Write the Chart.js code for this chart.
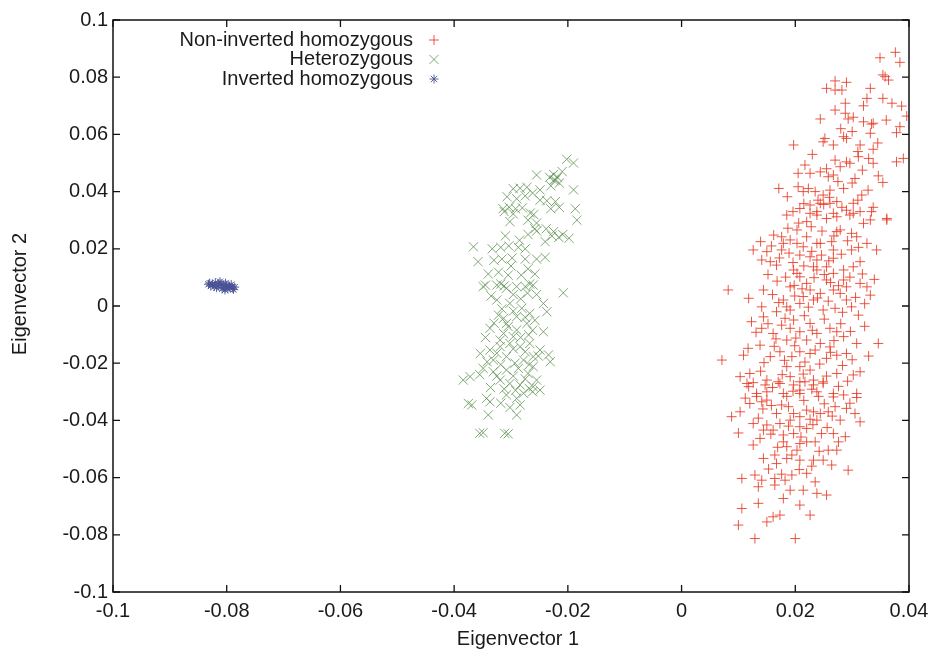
<!DOCTYPE html>
<html>
<head>
<meta charset="utf-8">
<script src="https://cdn.jsdelivr.net/npm/chart.js@4"></script>
<style>
  html, body { margin: 0; padding: 0; background: #fff; }
  #wrap { width: 936px; height: 649px; }
</style>
</head>
<body>
<div id="wrap"><canvas id="pca"></canvas></div>
<script>
// axis ranges / labels
const xTitle = "Eigenvector 1";
const yTitle = "Eigenvector 2";
const seriesNames = ["Non-inverted homozygous", "Heterozygous", "Inverted homozygous"];

// points, [eigenvector 1, eigenvector 2]
const nonInverted = [
  [0.0376,0.0887],[0.0349,0.0868],[0.0384,0.0852],[0.0354,0.0808],[0.0358,0.0802],[0.0364,0.0790],
  [0.0270,0.0787],[0.0290,0.0782],[0.0255,0.0761],[0.0270,0.0755],[0.0282,0.0755],[0.0332,0.0761],
  [0.0326,0.0726],[0.0354,0.0726],[0.0370,0.0709],[0.0387,0.0699],[0.0288,0.0709],[0.0270,0.0685],
  [0.0288,0.0674],[0.0244,0.0654],[0.0293,0.0654],[0.0302,0.0660],[0.0320,0.0644],[0.0334,0.0636],
  [0.0337,0.0639],[0.0396,0.0664],[0.0384,0.0627],[0.0378,0.0606],[0.0332,0.0604],[0.0197,0.0563],
  [0.0252,0.0586],[0.0249,0.0574],[0.0267,0.0563],[0.0285,0.0592],[0.0290,0.0586],[0.0314,0.0563],
  [0.0337,0.0548],[0.0390,0.0516],[0.0378,0.0504],[0.0270,0.0510],[0.0279,0.0487],[0.0290,0.0504],
  [0.0296,0.0499],[0.0311,0.0522],[0.0329,0.0516],[0.0337,0.0499],[0.0217,0.0493],[0.0205,0.0464],
  [0.0226,0.0464],[0.0244,0.0469],[0.0258,0.0452],[0.0267,0.0458],[0.0305,0.0446],[0.0354,0.0432],
  [0.0171,0.0411],[0.0205,0.0417],[0.0223,0.0411],[0.0235,0.0400],[0.0249,0.0388],[0.0261,0.0405],
  [0.0285,0.0411],[0.0186,0.0382],[0.0317,0.0388],[0.0214,0.0400],[0.0240,0.0370],[0.0273,0.0365],
  [0.0250,0.0355],[0.0185,0.0318],[0.0208,0.0341],[0.0226,0.0324],[0.0238,0.0330],[0.0267,0.0324],
  [0.0290,0.0335],[0.0302,0.0324],[0.0314,0.0330],[0.0334,0.0330],[0.0361,0.0306],
  [0.0226,0.0353],[0.0244,0.0359],[0.0261,0.0359],[0.0302,0.0359],[0.0337,0.0345],
  [0.0220,0.0295],[0.0238,0.0318],[0.0255,0.0306],[0.0273,0.0312],[0.0296,0.0318],[0.0320,0.0289],
  [0.0332,0.0301],[0.0361,0.0301],[0.0126,0.0196],[0.0150,0.0190],[0.0141,0.0161],[0.0156,0.0155],
  [0.0167,0.0143],[0.0176,0.0242],[0.0176,0.0196],[0.0191,0.0231],[0.0203,0.0219],[0.0214,0.0207],
  [0.0208,0.0178],[0.0226,0.0172],[0.0238,0.0161],[0.0244,0.0219],[0.0264,0.0225],[0.0267,0.0167],
  [0.0279,0.0266],[0.0299,0.0254],[0.0299,0.0196],[0.0308,0.0242],[0.0314,0.0155],[0.0326,0.0219],
  [0.0343,0.0196],[0.0273,0.0260],[0.0220,0.0242],[0.0232,0.0137],[0.0197,0.0126],[0.0203,0.0266],
  [0.0179,0.0219],[0.0267,0.0196],[0.0238,0.0219],[0.0255,0.0137],[0.0302,0.0137],[0.0285,0.0091],
  [0.0082,0.0056],[0.0144,0.0056],[0.0118,0.0027],[0.0141,-0.0003],[0.0179,0.0021],[0.0191,0.0067],
  [0.0208,0.0102],[0.0226,0.0056],[0.0238,0.0126],[0.0255,0.0091],[0.0267,0.0114],[0.0285,0.0126],
  [0.0290,0.0067],[0.0314,0.0079],[0.0326,0.0067],[0.0332,0.0038],[0.0299,-0.0003],[0.0311,-0.0032],
  [0.0270,-0.0008],[0.0249,-0.0014],[0.0232,0.0021],[0.0208,0.0009],[0.0191,-0.0014],[0.0167,-0.0020],
  [0.0220,0.0079],[0.0244,0.0044],[0.0279,0.0044],[0.0203,0.0114],[0.0214,0.0033],[0.0185,-0.0003],
  [0.0290,0.0021],[0.0267,0.0056],
  [0.0123,-0.0055],[0.0144,-0.0038],[0.0141,-0.0078],[0.0161,-0.0096],[0.0176,-0.0067],[0.0191,-0.0078],
  [0.0208,-0.0090],[0.0226,-0.0061],[0.0238,-0.0096],[0.0261,-0.0078],[0.0273,-0.0090],[0.0285,-0.0107],
  [0.0308,-0.0131],[0.0346,-0.0131],[0.0138,-0.0137],[0.0109,-0.0172],[0.0071,-0.0189],[0.0156,-0.0177],
  [0.0173,-0.0160],[0.0194,-0.0177],[0.0208,-0.0160],[0.0226,-0.0166],[0.0235,-0.0154],[0.0255,-0.0183],
  [0.0273,-0.0172],[0.0290,-0.0166],[0.0314,-0.0230],[0.0103,-0.0247],[0.0120,-0.0236],[0.0150,-0.0259],
  [0.0170,-0.0265],[0.0191,-0.0247],[0.0208,-0.0265],[0.0232,-0.0259],[0.0249,-0.0265],[0.0273,-0.0236],
  [0.0302,-0.0241],[0.0132,-0.0306],[0.0150,-0.0300],[0.0179,-0.0306],[0.0208,-0.0306],[0.0238,-0.0300],
  [0.0267,-0.0306],[0.0308,-0.0306],[0.0197,-0.0049],[0.0220,-0.0119],[0.0244,-0.0131],[0.0185,-0.0119],
  [0.0208,-0.0212],[0.0226,-0.0224],[0.0185,-0.0212],[0.0261,-0.0143],
  [0.0088,-0.0387],[0.0103,-0.0370],[0.0115,-0.0271],[0.0118,-0.0282],[0.0132,-0.0316],[0.0147,-0.0276],
  [0.0173,-0.0271],[0.0185,-0.0316],[0.0197,-0.0276],[0.0208,-0.0294],[0.0217,-0.0265],[0.0232,-0.0276],
  [0.0241,-0.0316],[0.0249,-0.0270],[0.0267,-0.0318],[0.0285,-0.0311],[0.0308,-0.0320],
  [0.0120,-0.0341],[0.0141,-0.0335],[0.0150,-0.0329],[0.0167,-0.0376],[0.0176,-0.0346],[0.0197,-0.0376],
  [0.0208,-0.0387],[0.0220,-0.0364],[0.0232,-0.0370],[0.0244,-0.0376],[0.0258,-0.0370],[0.0270,-0.0352],
  [0.0279,-0.0399],[0.0290,-0.0358],[0.0305,-0.0376],[0.0314,-0.0405],[0.0126,-0.0411],[0.0150,-0.0416],
  [0.0144,-0.0434],[0.0161,-0.0434],[0.0126,-0.0486],[0.0138,-0.0463],[0.0179,-0.0451],[0.0197,-0.0446],
  [0.0220,-0.0428],[0.0246,-0.0446],[0.0267,-0.0446],[0.0288,-0.0457],[0.0179,-0.0475],[0.0203,-0.0504],
  [0.0220,-0.0475],[0.0235,-0.0475],[0.0258,-0.0504],[0.0273,-0.0504],[0.0208,-0.0539],[0.0232,-0.0539],
  [0.0249,-0.0539],[0.0264,-0.0556],[0.0293,-0.0574],[0.0144,-0.0533],[0.0164,-0.0521],[0.0185,-0.0533],
  [0.0167,-0.0551],[0.0106,-0.0603],[0.0129,-0.0591],[0.0141,-0.0609],[0.0164,-0.0603],[0.0182,-0.0609],
  [0.0194,-0.0591],[0.0220,-0.0585],[0.0235,-0.0615],[0.0135,-0.0632],[0.0164,-0.0626],[0.0191,-0.0644],
  [0.0214,-0.0644],[0.0238,-0.0655],[0.0255,-0.0661],[0.0179,-0.0673],[0.0208,-0.0696],[0.0135,-0.0690],
  [0.0106,-0.0708],[0.0226,-0.0731],[0.0150,-0.0755],[0.0173,-0.0731],[0.0161,-0.0737],[0.0100,-0.0766],
  [0.0129,-0.0813],[0.0200,-0.0813],[0.0173,-0.0411],[0.0191,-0.0399],[0.0208,-0.0422],[0.0238,-0.0399],
  [0.0185,-0.0492],[0.0208,-0.0481],[0.0100,-0.0444],
  // denser core
  [0.0158,0.0210],[0.0172,0.0168],[0.0189,0.0185],[0.0196,0.0152],[0.0215,0.0140],[0.0229,0.0191],
  [0.0246,0.0178],[0.0259,0.0158],[0.0281,0.0181],[0.0292,0.0228],[0.0311,0.0205],[0.0268,0.0245],
  [0.0247,0.0262],[0.0228,0.0277],[0.0206,0.0290],[0.0187,0.0272],[0.0162,0.0248],[0.0139,0.0225],
  [0.0152,0.0110],[0.0168,0.0087],[0.0183,0.0101],[0.0198,0.0072],[0.0212,0.0060],[0.0233,0.0099],
  [0.0251,0.0110],[0.0262,0.0082],[0.0276,0.0071],[0.0296,0.0101],[0.0318,0.0112],[0.0339,0.0093],
  [0.0160,0.0040],[0.0171,0.0012],[0.0199,0.0035],[0.0223,-0.0004],[0.0239,0.0028],[0.0258,0.0017],
  [0.0283,-0.0022],[0.0306,0.0030],[0.0322,0.0008],
  [0.0131,-0.0092],[0.0152,-0.0062],[0.0166,-0.0115],[0.0182,-0.0043],[0.0201,-0.0112],[0.0216,-0.0034],
  [0.0230,-0.0085],[0.0251,-0.0046],[0.0268,-0.0121],[0.0280,-0.0062],[0.0297,-0.0089],[0.0322,-0.0071],
  [0.0117,-0.0148],[0.0145,-0.0198],[0.0163,-0.0141],[0.0181,-0.0190],[0.0199,-0.0139],[0.0217,-0.0196],
  [0.0243,-0.0203],[0.0262,-0.0162],[0.0283,-0.0208],[0.0300,-0.0188],[0.0329,-0.0175],
  [0.0126,-0.0268],[0.0139,-0.0228],[0.0160,-0.0285],[0.0177,-0.0240],[0.0196,-0.0298],[0.0214,-0.0238],
  [0.0229,-0.0291],[0.0255,-0.0245],[0.0276,-0.0281],[0.0292,-0.0263],[0.0112,-0.0322],[0.0143,-0.0360],
  [0.0158,-0.0348],[0.0188,-0.0352],[0.0215,-0.0330],[0.0226,-0.0396],[0.0251,-0.0342],[0.0265,-0.0385],
  [0.0296,-0.0340],[0.0135,-0.0392],[0.0157,-0.0448],[0.0188,-0.0420],[0.0210,-0.0458],[0.0231,-0.0415],
  [0.0256,-0.0425],[0.0276,-0.0475],[0.0169,-0.0494],[0.0194,-0.0521],[0.0242,-0.0508],[0.0153,-0.0570],
  [0.0176,-0.0588],[0.0207,-0.0572],[0.0229,-0.0560],
  [0.0196,0.0330],[0.0215,0.0358],[0.0260,0.0380],[0.0282,0.0345],[0.0310,0.0370],[0.0328,0.0405],
  [0.0300,0.0430],[0.0275,0.0435],[0.0255,0.0480],[0.0318,0.0475],[0.0346,0.0455],[0.0345,0.0570],
  [0.0300,0.0610],[0.0360,0.0650],[0.0320,0.0700],[0.0280,0.0620],[0.0310,0.0540],[0.0230,0.0530]
];

const heterozygous = [
  [-0.0202,0.0513],[-0.0190,0.0500],[-0.0255,0.0458],[-0.0225,0.0460],[-0.0222,0.0440],[-0.0215,0.0430],
  [-0.0230,0.0420],[-0.0210,0.0470],[-0.0190,0.0406],[-0.0249,0.0406],[-0.0296,0.0410],[-0.0284,0.0412],
  [-0.0272,0.0415],[-0.0307,0.0382],[-0.0249,0.0370],[-0.0237,0.0368],[-0.0222,0.0365],[-0.0314,0.0340],
  [-0.0303,0.0345],[-0.0292,0.0340],[-0.0280,0.0343],[-0.0266,0.0325],[-0.0260,0.0320],[-0.0230,0.0340],
  [-0.0215,0.0345],[-0.0187,0.0340],[-0.0302,0.0295],[-0.0184,0.0300],[-0.0258,0.0270],[-0.0255,0.0262],
  [-0.0270,0.0250],[-0.0228,0.0245],[-0.0216,0.0240],[-0.0209,0.0250],[-0.0198,0.0237],[-0.0366,0.0207],
  [-0.0358,0.0155],[-0.0333,0.0200],[-0.0318,0.0205],[-0.0304,0.0210],[-0.0287,0.0205],[-0.0275,0.0200],
  [-0.0316,0.0164],[-0.0298,0.0168],[-0.0275,0.0164],[-0.0255,0.0164],[-0.0240,0.0170],[-0.0340,0.0112],
  [-0.0322,0.0118],[-0.0305,0.0108],[-0.0282,0.0108],[-0.0258,0.0112],[-0.0345,0.0073],[-0.0318,0.0077],
  [-0.0290,0.0068],[-0.0267,0.0077],[-0.0349,0.0068],[-0.0325,0.0073],[-0.0308,0.0062],[-0.0275,0.0068],
  [-0.0261,0.0073],[-0.0325,0.0021],[-0.0302,0.0009],[-0.0281,-0.0008],[-0.0267,-0.0026],[-0.0243,0.0009],
  [-0.0237,-0.0020],[-0.0322,-0.0032],[-0.0313,-0.0043],[-0.0243,-0.0090],[-0.0337,-0.0078],[-0.0313,-0.0096],
  [-0.0290,-0.0084],[-0.0269,-0.0101],[-0.0354,-0.0166],[-0.0337,-0.0154],[-0.0319,-0.0142],[-0.0302,-0.0131],
  [-0.0284,-0.0142],[-0.0267,-0.0131],[-0.0249,-0.0154],[-0.0234,-0.0171],[-0.0231,-0.0195],[-0.0372,-0.0247],
  [-0.0384,-0.0259],[-0.0349,-0.0218],[-0.0331,-0.0230],[-0.0308,-0.0224],[-0.0287,-0.0218],[-0.0270,-0.0236],
  [-0.0261,-0.0212],[-0.0319,-0.0259],[-0.0302,-0.0271],[-0.0284,-0.0276],[-0.0261,-0.0282],[-0.0249,-0.0294],
  [-0.0375,-0.0341],[-0.0369,-0.0346],[-0.0343,-0.0323],[-0.0337,-0.0335],[-0.0308,-0.0311],[-0.0290,-0.0323],
  [-0.0284,-0.0346],[-0.0340,-0.0381],[-0.0290,-0.0381],[-0.0355,-0.0445],[-0.0349,-0.0443],[-0.0311,-0.0445],
  [-0.0305,-0.0447],[-0.0208,0.0046],[-0.0308,-0.0177],[-0.0278,-0.0189],[-0.0296,-0.0107],[-0.0272,-0.0061],
  [-0.0308,-0.0061],[-0.0290,-0.0037],[-0.0319,-0.0119],[-0.0261,-0.0177],[-0.0331,-0.0189],[-0.0255,-0.0259],
  [-0.0278,-0.0305],
  // denser core
  [-0.0312,0.0070],[-0.0296,0.0040],[-0.0283,0.0025],[-0.0271,0.0045],[-0.0255,0.0040],[-0.0335,0.0035],
  [-0.0316,-0.0010],[-0.0296,-0.0018],[-0.0275,-0.0040],[-0.0258,-0.0050],[-0.0330,-0.0060],[-0.0305,-0.0072],
  [-0.0283,-0.0110],[-0.0262,-0.0085],[-0.0345,-0.0110],[-0.0325,-0.0165],[-0.0296,-0.0150],[-0.0275,-0.0160],
  [-0.0252,-0.0175],[-0.0342,-0.0195],[-0.0318,-0.0205],[-0.0293,-0.0200],[-0.0268,-0.0205],[-0.0355,-0.0240],
  [-0.0325,-0.0245],[-0.0296,-0.0245],[-0.0275,-0.0255],[-0.0336,-0.0285],[-0.0312,-0.0290],[-0.0292,-0.0295],
  [-0.0268,-0.0288],[-0.0318,-0.0340],[-0.0302,-0.0355],[-0.0262,-0.0300],
  [-0.0290,0.0375],[-0.0275,0.0385],[-0.0262,0.0395],[-0.0312,0.0330],[-0.0296,0.0322],[-0.0270,0.0300],
  [-0.0255,0.0290],[-0.0238,0.0270],[-0.0225,0.0260],[-0.0240,0.0225],[-0.0310,0.0245],[-0.0285,0.0230],
  [-0.0330,0.0160],[-0.0300,0.0140],[-0.0270,0.0130],[-0.0225,0.0440],[-0.0218,0.0450],[-0.0232,0.0450]
];

const invertedHom = [
  [-0.0830,0.0080],[-0.0825,0.0075],[-0.0820,0.0082],[-0.0815,0.0070],[-0.0810,0.0078],[-0.0805,0.0065],
  [-0.0800,0.0072],[-0.0795,0.0068],[-0.0790,0.0062],[-0.0786,0.0066],[-0.0828,0.0070],[-0.0818,0.0064],
  [-0.0808,0.0060],[-0.0798,0.0060],[-0.0812,0.0085],[-0.0802,0.0080],[-0.0792,0.0075],[-0.0822,0.0068],
  [-0.0806,0.0072],[-0.0796,0.0070],[-0.0832,0.0076],[-0.0814,0.0076],[-0.0788,0.0058],[-0.0803,0.0056]
];

const colors = ["rgba(232,58,36,0.85)", "rgba(96,146,84,0.8)", "rgba(72,82,150,0.9)"];
const styles = ["cross", "crossRot", "star"];
const radii = [5, 6.5, 4.5];

const FONT = "'Liberation Sans', Arial, sans-serif";
const toXY = (arr) => arr.map((p) => ({ x: p[0], y: p[1] }));
const fmt = (v) => Number(v.toFixed(2)).toString();

const gnuplotFrame = {
  id: "gnuplotFrame",
  afterDraw(chart) {
    const { ctx, chartArea: a, scales } = chart;
    ctx.save();
    ctx.strokeStyle = "#111";
    ctx.lineWidth = 1.5;
    ctx.strokeRect(a.left, a.top, a.right - a.left, a.bottom - a.top);

    // inward ticks on all four sides
    ctx.lineWidth = 1.3;
    ctx.beginPath();
    scales.x.ticks.forEach((t) => {
      const px = scales.x.getPixelForValue(t.value);
      ctx.moveTo(px, a.bottom); ctx.lineTo(px, a.bottom - 7);
      ctx.moveTo(px, a.top); ctx.lineTo(px, a.top + 7);
    });
    scales.y.ticks.forEach((t) => {
      const py = scales.y.getPixelForValue(t.value);
      ctx.moveTo(a.left, py); ctx.lineTo(a.left + 7, py);
      ctx.moveTo(a.right, py); ctx.lineTo(a.right - 7, py);
    });
    ctx.stroke();

    // key, text right-aligned with the symbol after it
    ctx.font = "20px " + FONT;
    ctx.fillStyle = "#1a1a1a";
    ctx.textAlign = "right";
    ctx.textBaseline = "middle";
    const rows = [40, 59.5, 79];
    seriesNames.forEach((name, i) => {
      ctx.fillText(name, 413, rows[i]);
      ctx.strokeStyle = colors[i];
      ctx.lineWidth = 1;
      Chart.helpers.drawPoint(ctx, { pointStyle: styles[i], radius: radii[i], rotation: 0, borderWidth: 1 }, 434, rows[i]);
    });

    // axis titles
    ctx.textAlign = "center";
    ctx.fillText(xTitle, 518, 639);
    ctx.translate(20, 294);
    ctx.rotate(-Math.PI / 2);
    ctx.fillText(yTitle, 0, 0);
    ctx.restore();
  },
};

new Chart(document.getElementById("pca"), {
  type: "scatter",
  data: {
    datasets: [nonInverted, heterozygous, invertedHom].map((pts, i) => ({
      label: seriesNames[i],
      data: toXY(pts),
      pointStyle: styles[i],
      pointRadius: radii[i],
      pointBorderWidth: 1,
      pointBorderColor: colors[i],
      pointBackgroundColor: colors[i],
      showLine: false,
    })),
  },
  options: {
    responsive: true,
    maintainAspectRatio: false,
    animation: false,
    events: [],
    layout: { padding: { left: 0, right: 27, top: 20, bottom: 0 } },
    plugins: { legend: { display: false }, tooltip: { enabled: false } },
    scales: {
      x: {
        type: "linear",
        min: -0.1,
        max: 0.04,
        grid: { display: false, drawTicks: false },
        border: { display: false },
        ticks: { stepSize: 0.02, padding: 7, color: "#1a1a1a", font: { size: 20, family: FONT }, callback: fmt, maxRotation: 0 },
        afterFit: (s) => { s.height = 57; },
      },
      y: {
        type: "linear",
        min: -0.1,
        max: 0.1,
        grid: { display: false, drawTicks: false },
        border: { display: false },
        ticks: { stepSize: 0.02, padding: 5, color: "#1a1a1a", font: { size: 20, family: FONT }, callback: fmt },
        afterFit: (s) => { s.width = 113; },
      },
    },
  },
  plugins: [gnuplotFrame],
});
</script>
</body>
</html>
